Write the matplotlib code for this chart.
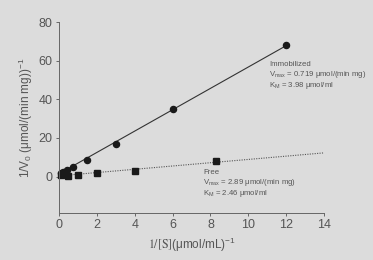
import matplotlib
matplotlib.use("Agg")
import matplotlib.pyplot as plt
import numpy as np

plt.rcParams["font.family"] = ["Liberation Sans", "DejaVu Sans"]
plt.rcParams["mathtext.fontset"] = "custom"
plt.rcParams["mathtext.rm"] = "Liberation Sans"
plt.rcParams["mathtext.it"] = "Liberation Sans"
plt.rcParams["mathtext.default"] = "regular"

# Immobilized enzyme (circles)
imm_x = [0.1, 0.2, 0.4, 0.75, 1.5, 3.0, 6.0, 12.0]
imm_y = [1.8, 2.4, 3.4, 5.0, 8.8, 17.0, 35.0, 68.0]
# Free enzyme (squares)
free_x = [0.1, 0.5, 1.0, 2.0, 4.0, 8.3]
free_y = [0.6, 0.3, 0.6, 1.6, 2.7, 8.0]

# Kinetic parameters
imm_vmax, imm_km = 0.719, 3.98
free_vmax, free_km = 2.89, 2.46

xticks = [0, 2, 4, 6, 8, 10, 12, 14]
yticks = [0, 20, 40, 60, 80]

bg = "#dcdcdc"
txt = "#555555"
fig = plt.figure(figsize=(3.73, 2.60), dpi=100, facecolor=bg)
ax = fig.add_axes([0.158, 0.18, 0.711, 0.735], facecolor=bg)

# fitted lines
xi = np.array([0, 12.0])
ax.plot(xi, imm_km / imm_vmax * xi + 1 / imm_vmax, color="#333333", lw=0.8)
xf = np.array([0, 14.0])
ax.plot(xf, free_km / free_vmax * xf + 1 / free_vmax, color="#555555", lw=0.8, ls=(0, (1, 1.2)))

ax.plot(imm_x, imm_y, "o", color="#1a1a1a", ms=4.4, clip_on=False)
ax.plot(free_x, free_y, "s", color="#1a1a1a", ms=3.8, clip_on=False)

ax.set_xlim(0, 14)
ax.set_ylim(-19, 80)
ax.set_xticks(xticks)
ax.set_yticks(yticks)
for s in ["top", "right"]:
    ax.spines[s].set_visible(False)
ax.spines["left"].set_bounds(-19, 80)
for s in ["left", "bottom"]:
    ax.spines[s].set_color("#666666")
    ax.spines[s].set_linewidth(0.7)
ax.tick_params(colors="#666666", labelcolor=txt, labelsize=9, length=2.5, width=0.7, pad=2)

ax.set_ylabel(r"1/V$_0$ (μmol/(min mg))$^{-1}$", color=txt, fontsize=8.5, labelpad=3)
ax.set_xlabel(r"$\mathrm{1/[S]}$(μmol/mL)$^{-1}$", color=txt, fontsize=8.5, labelpad=3,
              math_fontfamily="stix")

fs = 5.6
ax.text(11.1, 58.2, "Immobilized", fontsize=fs, color=txt, va="center")
ax.text(11.1, 52.6, r"V$_{max}$ = 0.719 μmol/(min mg)", fontsize=fs, color=txt, va="center")
ax.text(11.1, 47.0, r"K$_M$ = 3.98 μmol/ml", fontsize=fs, color=txt, va="center")

ax.text(7.6, 2.3, "Free", fontsize=fs, color=txt, va="center")
ax.text(7.6, -3.2, r"V$_{max}$ = 2.89 μmol/(min mg)", fontsize=fs, color=txt, va="center")
ax.text(7.6, -8.7, r"K$_M$ = 2.46 μmol/ml", fontsize=fs, color=txt, va="center")

fig.savefig("out.png", dpi=100, facecolor=bg)
